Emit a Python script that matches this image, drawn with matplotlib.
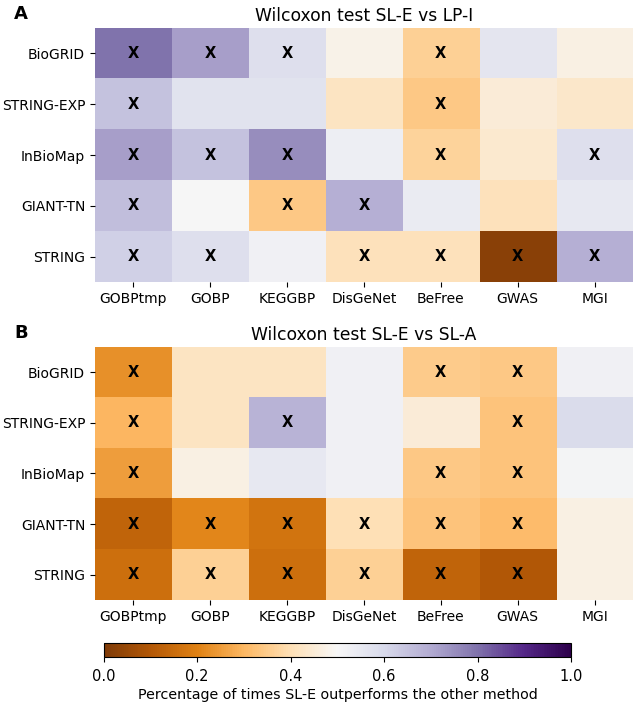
import matplotlib

matplotlib.use("Agg")
import matplotlib.pyplot as plt
import numpy as np

networks = ["BioGRID", "STRING-EXP", "InBioMap", "GIANT-TN", "STRING"]
genesets = ["GOBPtmp", "GOBP", "KEGGBP", "DisGeNet", "BeFree", "GWAS", "MGI"]

# fraction of times SL-E beats LP-I
vals_lpi = [
    [0.80, 0.72, 0.58, 0.48, 0.36, 0.56, 0.47],
    [0.65, 0.57, 0.57, 0.42, 0.34, 0.45, 0.43],
    [0.72, 0.65, 0.75, 0.53, 0.37, 0.44, 0.58],
    [0.66, 0.50, 0.34, 0.69, 0.54, 0.41, 0.55],
    [0.62, 0.58, 0.52, 0.41, 0.41, 0.02, 0.69],
]
sig_lpi = [
    [1, 1, 1, 0, 1, 0, 0],
    [1, 0, 0, 0, 1, 0, 0],
    [1, 1, 1, 0, 1, 0, 1],
    [1, 0, 1, 1, 0, 0, 0],
    [1, 1, 0, 1, 1, 1, 1],
]

# fraction of times SL-E beats SL-A
vals_sla = [
    [0.23, 0.42, 0.42, 0.52, 0.35, 0.34, 0.52],
    [0.30, 0.42, 0.68, 0.52, 0.45, 0.33, 0.59],
    [0.25, 0.47, 0.55, 0.52, 0.34, 0.33, 0.51],
    [0.13, 0.21, 0.17, 0.40, 0.33, 0.31, 0.47],
    [0.16, 0.36, 0.16, 0.36, 0.13, 0.10, 0.47],
]
sig_sla = [
    [1, 0, 0, 0, 1, 1, 0],
    [1, 0, 1, 0, 0, 1, 0],
    [1, 0, 0, 0, 1, 1, 0],
    [1, 1, 1, 1, 1, 1, 0],
    [1, 1, 1, 1, 1, 1, 0],
]


def draw_panel(ax, vals, sig, title, letter):
    im = ax.imshow(np.array(vals), cmap="PuOr", vmin=0, vmax=1, aspect="auto")
    for i, row in enumerate(sig):
        for j, s in enumerate(row):
            if s:
                ax.text(j, i, "X", ha="center", va="center",
                        fontsize=10.5, fontweight="bold", color="black")
    ax.set_xticks(range(len(genesets)))
    ax.set_xticklabels(genesets, fontsize=10)
    ax.set_yticks(range(len(networks)))
    ax.set_yticklabels(networks, fontsize=10)
    for s in ax.spines.values():
        s.set_visible(False)
    ax.set_title(title, fontsize=12.3, pad=5)
    ax.text(-0.15, 1.055, letter, transform=ax.transAxes,
            fontsize=13, fontweight="bold", va="center", ha="left")
    return im


fig = plt.figure(figsize=(6.33, 7.02), dpi=100)
ax_a = fig.add_axes([0.150, 0.598, 0.850, 0.362])
ax_b = fig.add_axes([0.150, 0.145, 0.850, 0.361])
cax = fig.add_axes([0.164, 0.064, 0.738, 0.020])

im = draw_panel(ax_a, vals_lpi, sig_lpi, "Wilcoxon test SL-E vs LP-I", "A")
draw_panel(ax_b, vals_sla, sig_sla, "Wilcoxon test SL-E vs SL-A", "B")

cb = fig.colorbar(im, cax=cax, orientation="horizontal")
cb.set_ticks([0.0, 0.2, 0.4, 0.6, 0.8, 1.0])
cb.ax.tick_params(labelsize=10.5, pad=5)
cb.set_label("Percentage of times SL-E outperforms the other method",
             fontsize=10.3, labelpad=3)

fig.savefig("out.png", dpi=100)
